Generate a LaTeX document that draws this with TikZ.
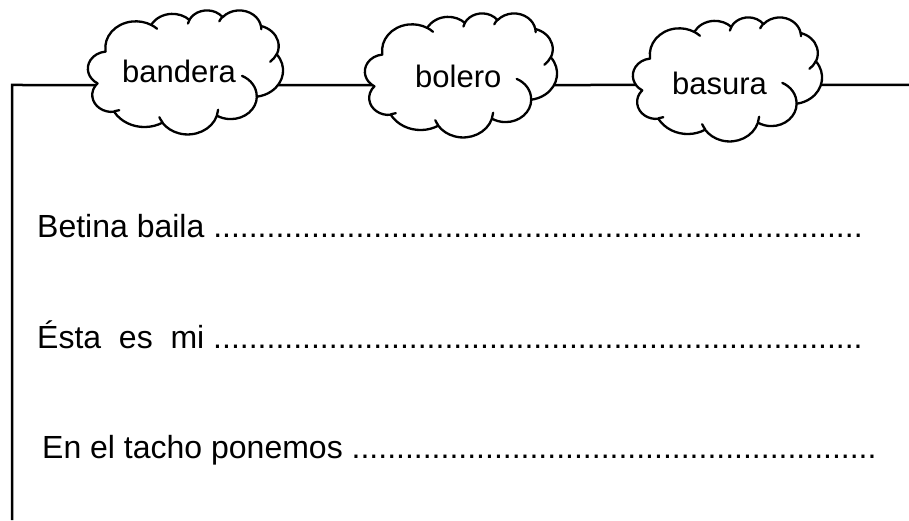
\documentclass[tikz,border=0pt]{standalone}
\usepackage{fontspec}
\setmainfont{Liberation Sans}
\usetikzlibrary{backgrounds}

% one puff of the cloud: radii, start angle and sweep as seen on the ellipse
\newcommand\puffarc[4]{arc[x radius=#1, y radius=#2,
    start angle={atan2(#1*sin(#3),#2*cos(#3))},
    delta angle={mod(atan2(#1*sin(#3+#4),#2*cos(#3+#4))-atan2(#1*sin(#3),#2*cos(#3))+720,360)}]}
\newcommand\dotrow[1]{\foreach\i in {1,...,#1}{.}}

\tikzset{
    outline/.style = {draw=black, line width=2.3pt, line join=round, line cap=round},
    edge/.style = {draw=black, line width=2.5pt},
    word/.style = {inner sep=0pt, anchor=base west, font=\fontsize{31}{36}\selectfont},
    sentence/.style = {word, font=\fontsize{32}{38}\selectfont},
    pics/wordcloud/.style = {code={
        \draw[outline, fill=white] (9.028,33.264)
            \puffarc{15.632}{21.273}{-190.4875}{123.7805}
            \puffarc{12.345}{16.822}{-144.1024}{89.9452}
            \puffarc{10.104}{13.762}{-145.8079}{99.7230}
            \puffarc{11.243}{15.266}{-130.9861}{117.2417}
            \puffarc{12.345}{16.836}{-78.7089}{109.0269}
            \puffarc{15.683}{21.343}{-46.2673}{130.2690}
            \puffarc{13.391}{18.211}{0.6250}{114.0333}
            \puffarc{15.630}{21.331}{22.4516}{115.1726}
            \puffarc{17.870}{24.405}{66.2426}{75.7110}
            \puffarc{10.093}{13.699}{-274.9421}{146.7356}
            \puffarc{10.058}{13.762}{-246.8285}{152.5189}
            -- cycle;
        \draw[outline]
            (16.037,80.785) \puffarc{10.093}{13.699}{73.6105}{11.4475}
            (38.144,90.486) \puffarc{15.630}{21.331}{137.6242}{14.0811}
            (66.729,80.442) \puffarc{15.630}{21.331}{6.4533}{15.9984}
            (79.002,53.134) \puffarc{13.391}{18.211}{-70.2924}{70.9174}
            (96.755,35.542) \puffarc{12.345}{16.836}{30.3180}{27.7515}
            (88.713,12.560) \puffarc{11.243}{15.266}{-13.7443}{14.8589}
            (67.310,9.148) \puffarc{11.243}{15.266}{-149.1815}{18.1954}
            (51.252,10.926) \puffarc{10.104}{13.762}{-163.4943}{17.6864}
            (32.407,12.019) \puffarc{15.632}{21.273}{-66.7070}{12.3194};
        \coordinate (-w) at (5,#1);
        \coordinate (-e) at (95,#1);
    }}
}

\begin{document}
\begin{tikzpicture}[x=1pt, y=1pt]
    \useasboundingbox (0,0) rectangle (909,520);

    % the three word clouds
    \pic[xscale=1.95, yscale=-1.24] (bandera) at (88,510) {wordcloud=60.5};
    \pic[xscale=1.92, yscale=-1.24] (bolero) at (365,507) {wordcloud=58.1};
    \pic[xscale=1.89, yscale=-1.24] (basura) at (633,503) {wordcloud=54.8};

    \node[word] (bandera-label) at (122,437) {bandera};
    \node[word] (bolero-label) at (415,432) {bolero};
    \node[word] (basura-label) at (672,425) {basura};

    % frame
    \coordinate (corner) at (12,435);
    \coordinate (top-end) at (909,435);
    \coordinate (bottom-end) at (12,0);
    \begin{scope}[on background layer]
        \draw[edge] (bottom-end) -- (corner) -- (bandera-w);
        \draw[edge] (bandera-e) -- (bolero-w);
        \draw[edge] (bolero-e) -- (basura-w);
        \draw[edge] (basura-e) -- (top-end);
    \end{scope}

    % sentences
    \node[sentence] (betina) at (37,283) {Betina baila \dotrow{73}};
    \node[sentence] (esta) at (37,172) {Ésta\ \ es\ \ mi \dotrow{73}};
    \node[sentence] (tacho) at (42,62) {En el tacho ponemos \dotrow{59}};
\end{tikzpicture}
\end{document}
